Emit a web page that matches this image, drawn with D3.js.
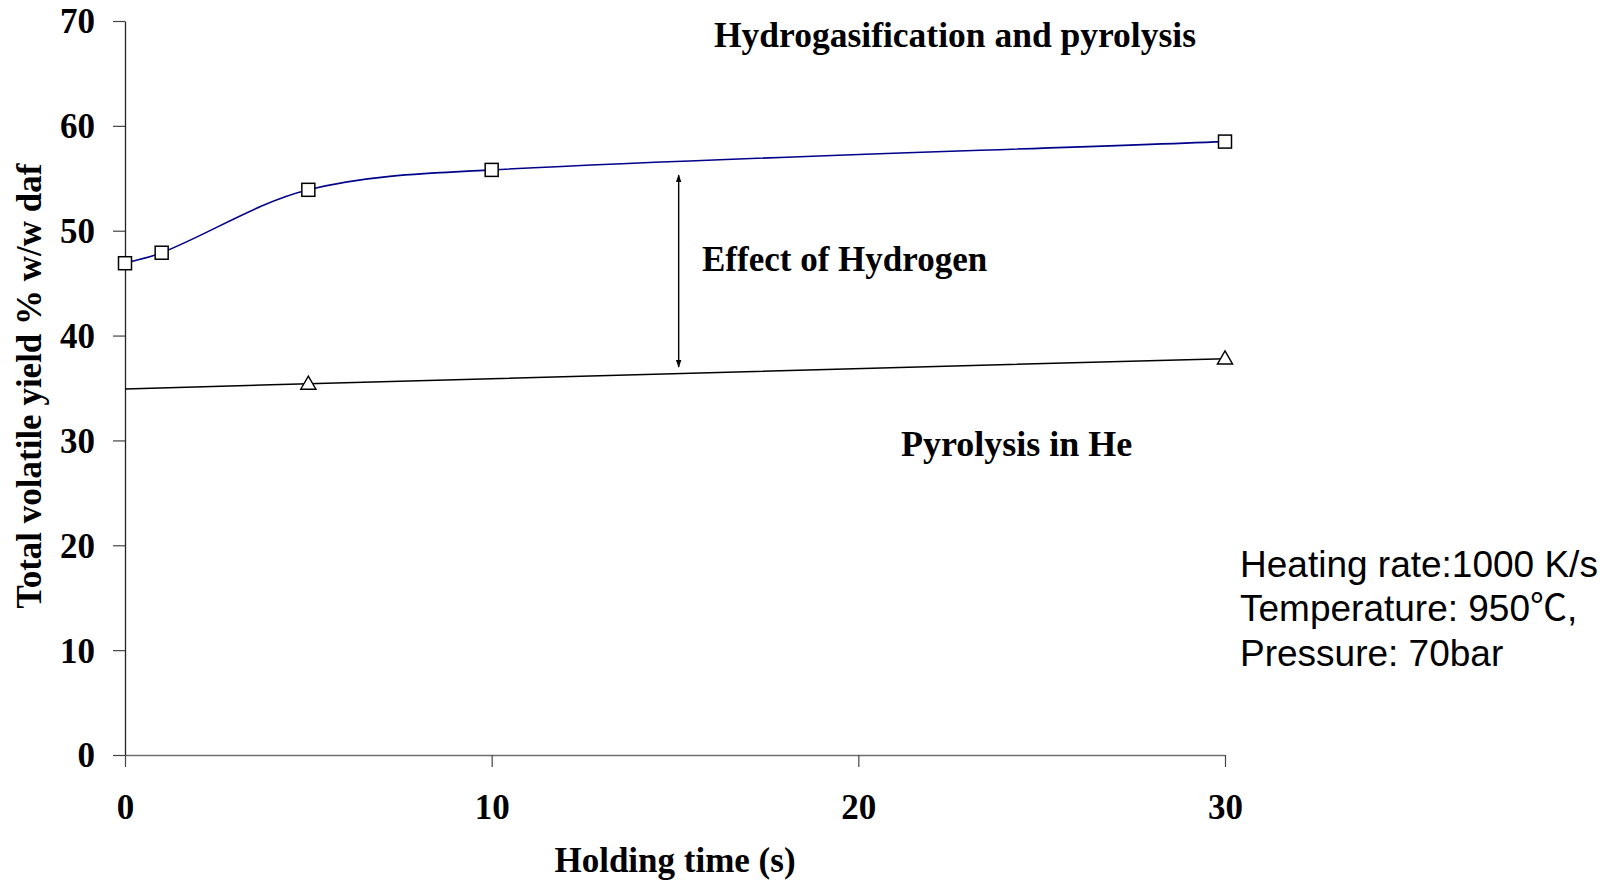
<!DOCTYPE html>
<html>
<head>
<meta charset="utf-8">
<script src="https://cdn.jsdelivr.net/npm/d3@7"></script>
<style>
  html, body { margin: 0; padding: 0; background: #fff; }
  svg { display: block; }
</style>
</head>
<body>
<svg id="chart" width="1619" height="883"></svg>
<script>
// ---- Data ----
const hydroTimes  = [0, 1, 5, 10, 30];
const hydroYields = [46.9, 47.9, 53.9, 55.8, 58.5];

const pyroTimes   = [0, 5, 30];
const pyroYields  = [34.9, 35.4, 37.8];
const pyroMarkers = [false, true, true];

const xTicks = [0, 10, 20, 30];
const yTicks = [0, 10, 20, 30, 40, 50, 60, 70];

const xLabel = "Holding time (s)";
const yLabel = "Total volatile yield % w/w daf";
const hydroLabel = "Hydrogasification and pyrolysis";
const pyroLabel = "Pyrolysis in He";
const effectLabel = "Effect of Hydrogen";
const effectArrow = { x: 15.1, y1: 55.3, y2: 37.0 };
const conditions = ["Heating rate:1000 K/s", "Temperature: 950\u2103,", "Pressure: 70bar"];

// ---- Layout ----
const svg = d3.select("#chart");
const X0 = 125, X1 = 1225, Y0 = 755, Y1 = 21;
const x = d3.scaleLinear().domain([0, 30]).range([X0, X1]);
const y = d3.scaleLinear().domain([0, 70]).range([Y0, Y1]);

const serif = "'Liberation Serif', 'Times New Roman', serif";
const sans = "'Liberation Sans', Arial, 'Noto Sans CJK SC', sans-serif";

// ---- Axes ----
const xAxis = svg.append("g")
  .attr("transform", `translate(0,${Y0})`)
  .call(d3.axisBottom(x).tickValues(xTicks).tickSize(12).tickSizeOuter(0).tickPadding(27));
xAxis.select(".domain").attr("stroke", "#6e6e6e").attr("stroke-width", 1.5);
xAxis.selectAll(".tick line").attr("stroke", "#444").attr("stroke-width", 1.2);
xAxis.selectAll(".tick text")
  .attr("font-family", serif).attr("font-weight", "bold").attr("font-size", 35)
  .attr("fill", "#000").attr("dy", "0.71em");

const yAxis = svg.append("g")
  .attr("transform", `translate(${X0},0)`)
  .call(d3.axisLeft(y).tickValues(yTicks).tickSize(12).tickSizeOuter(0).tickPadding(18));
yAxis.select(".domain").attr("stroke", "#222").attr("stroke-width", 1.3);
yAxis.selectAll(".tick line").attr("stroke", "#444").attr("stroke-width", 1.2);
yAxis.selectAll(".tick text")
  .attr("font-family", serif).attr("font-weight", "bold").attr("font-size", 35)
  .attr("fill", "#000").attr("dy", "0.34em");
xAxis.raise();

// ---- Axis titles ----
svg.append("text")
  .attr("x", (X0 + X1) / 2).attr("y", 872)
  .attr("text-anchor", "middle")
  .attr("font-family", serif).attr("font-weight", "bold").attr("font-size", 35)
  .text(xLabel);

svg.append("text")
  .attr("transform", `translate(41,386) rotate(-90)`)
  .attr("text-anchor", "middle")
  .attr("font-family", serif).attr("font-weight", "bold").attr("font-size", 35)
  .text(yLabel);

// ---- Lines (spreadsheet-style smoothing: chord-scaled tangents) ----
const hydroData = hydroTimes.map((t, i) => ({ t, v: hydroYields[i] }));
const pyroData = pyroTimes.map((t, i) => ({ t, v: pyroYields[i], m: pyroMarkers[i] }));

function smoothPath(data) {
  const pts = data.map(d => [x(d.t), y(d.v)]);
  const n = pts.length;
  const tan = pts.map((p, i) => {
    const a = pts[Math.max(0, i - 1)], b = pts[Math.min(n - 1, i + 1)];
    const dx = b[0] - a[0], dy = b[1] - a[1];
    const len = Math.hypot(dx, dy) || 1;
    return [dx / len, dy / len];
  });
  const p = d3.path();
  p.moveTo(pts[0][0], pts[0][1]);
  for (let i = 0; i < n - 1; i++) {
    const a = pts[i], b = pts[i + 1];
    const L = Math.hypot(b[0] - a[0], b[1] - a[1]) / 3;
    p.bezierCurveTo(a[0] + tan[i][0] * L, a[1] + tan[i][1] * L,
                    b[0] - tan[i + 1][0] * L, b[1] - tan[i + 1][1] * L,
                    b[0], b[1]);
  }
  return p.toString();
}

svg.append("path").attr("d", smoothPath(hydroData)).attr("fill", "none")
  .attr("stroke", "#00008a").attr("stroke-width", 1.6);

svg.append("path").attr("d", smoothPath(pyroData)).attr("fill", "none")
  .attr("stroke", "#000").attr("stroke-width", 1.5);

// ---- Markers ----
const sq = 13;
svg.append("g").selectAll("rect").data(hydroData).join("rect")
  .attr("x", d => x(d.t) - sq / 2).attr("y", d => y(d.v) - sq / 2)
  .attr("width", sq).attr("height", sq)
  .attr("fill", "#fff").attr("stroke", "#000").attr("stroke-width", 1.5);

const tri = d3.symbol().type(d3.symbolTriangle).size(100);
svg.append("g").selectAll("path").data(pyroData.filter(d => d.m)).join("path")
  .attr("transform", d => `translate(${x(d.t)},${y(d.v) + 1})`)
  .attr("d", tri)
  .attr("fill", "#fff").attr("stroke", "#000").attr("stroke-width", 1.4);

// ---- Annotations ----
const defs = svg.append("defs");
defs.append("marker").attr("id", "ah").attr("viewBox", "0 0 10 10")
  .attr("refX", 9).attr("refY", 5).attr("markerWidth", 8).attr("markerHeight", 8)
  .attr("markerUnits", "userSpaceOnUse")
  .attr("orient", "auto-start-reverse")
  .append("path").attr("d", "M0,1.5 L10,5 L0,8.5 Z").attr("fill", "#000");

svg.append("line")
  .attr("x1", x(effectArrow.x)).attr("x2", x(effectArrow.x))
  .attr("y1", y(effectArrow.y1)).attr("y2", y(effectArrow.y2))
  .attr("stroke", "#000").attr("stroke-width", 1.4)
  .attr("marker-start", "url(#ah)").attr("marker-end", "url(#ah)");

svg.append("text")
  .attr("x", 702).attr("y", 270.5)
  .attr("font-family", serif).attr("font-weight", "bold").attr("font-size", 35)
  .text(effectLabel);

svg.append("text")
  .attr("x", 955).attr("y", 46.5).attr("text-anchor", "middle")
  .attr("font-family", serif).attr("font-weight", "bold").attr("font-size", 35.5)
  .text(hydroLabel);

svg.append("text")
  .attr("x", 901).attr("y", 456)
  .attr("font-family", serif).attr("font-weight", "bold").attr("font-size", 36)
  .text(pyroLabel);

svg.append("g").selectAll("text").data(conditions).join("text")
  .attr("x", 1240).attr("y", (d, i) => 577 + i * 44.3)
  .attr("font-family", sans).attr("font-size", 37)
  .attr("fill", "#000")
  .text(d => d);
</script>
</body>
</html>
